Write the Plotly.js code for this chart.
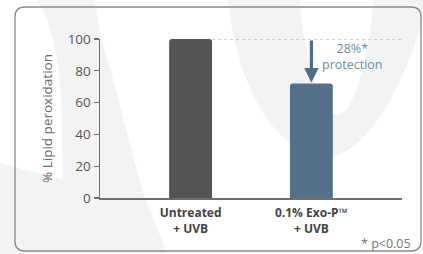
<!DOCTYPE html>
<html>
<head>
<meta charset="utf-8">
<script src="https://cdn.plot.ly/plotly-3.0.1.min.js"></script>
<style>html,body{margin:0;padding:0;background:#fff;}#chart{width:423px;height:254px;}</style>
</head>
<body>
<div id="chart"></div>
<script>
// ---- data ----
var categories = ["<b>Untreated</b><br><b>+ UVB</b>", "<b>0.1% Exo-P™</b><br><b>+ UVB</b>"];
var values = [100, 72];
var barColors = ["#545454", "#557189"];
var yTickVals = [0, 20, 40, 60, 80, 100];
var protectionText = "28%*<br>protection";
var noteText = "* p&lt;0.05";
var yTitle = "% Lipid peroxidation";

// ---- layout helpers ----
var FW = 423, FH = 254;
var ML = 100, MR = 21, MT = 39, MB = 56;
var PW = FW - ML - MR, PH = FH - MT - MB;
function px(x){ return ((x - ML) / PW).toFixed(4); }
function py(y){ return ((MT + PH - y) / PH).toFixed(4); }
function pt(x, y){ return px(x) + "," + py(y); }
var FONT = "Open Sans, Arial, sans-serif";
var barWidth = 0.355;
var xRange = [-0.75, 1.75];

var wm = "#f3f3f3";
var shapes = [
  // watermark (left)
  {type:"path", xref:"paper", yref:"paper", layer:"below", line:{width:0}, fillcolor:wm,
   path:"M"+pt(38,0)+" L"+pt(95,0)+" Q"+pt(100,40)+" "+pt(112,75)+" L"+pt(142,190)+" L"+pt(168,256)+
        " L"+pt(0,256)+" L"+pt(0,163)+" L"+pt(63,180)+" L"+pt(61,95)+" Q"+pt(56,30)+" "+pt(38,0)+" Z"},
  // watermark (right U)
  {type:"path", xref:"paper", yref:"paper", layer:"below", line:{width:0}, fillcolor:wm,
   path:"M"+pt(228,0)+" C"+pt(240,110)+" "+pt(290,157)+" "+pt(325,157)+" C"+pt(365,157)+" "+pt(405,90)+" "+pt(428,0)+
        " L"+pt(373,0)+" C"+pt(370,60)+" "+pt(352,115)+" "+pt(338,115)+" C"+pt(322,115)+" "+pt(304,60)+" "+pt(300,0)+" Z"},
  // frame
  {type:"path", xref:"paper", yref:"paper", layer:"below", line:{color:"#8a8a8a", width:1.3}, fillcolor:"rgba(0,0,0,0)",
   path:"M"+pt(25,7)+" L"+pt(411,7)+" Q"+pt(421,7)+" "+pt(421,17)+" L"+pt(421,241)+" Q"+pt(421,251)+" "+pt(411,251)+
        " L"+pt(25,251)+" Q"+pt(15,251)+" "+pt(15,241)+" L"+pt(15,17)+" Q"+pt(15,7)+" "+pt(25,7)+" Z"},
  // dotted reference line at control level
  {type:"line", xref:"x", yref:"y", x0:0 + barWidth/2, x1:xRange[1], y0:values[0], y1:values[0],
   line:{color:"#a0a0a0", width:1, dash:"dot"}, layer:"above"}
];

var trace = {
  type:"bar", x:[0,1], y:values, width:barWidth,
  marker:{color:barColors, cornerradius:3, line:{width:0}},
  hoverinfo:"none", cliponaxis:false
};

var layout = {
  width:FW, height:FH,
  margin:{l:ML, r:MR, t:MT, b:MB, pad:0},
  paper_bgcolor:"#ffffff", plot_bgcolor:"rgba(0,0,0,0)",
  showlegend:false,
  font:{family:FONT, color:"#555"},
  xaxis:{
    range:xRange, tickvals:[0,1], ticktext:categories, showgrid:false, zeroline:false,
    showline:true, linecolor:"#6e6e6e", linewidth:1.5, ticks:"", fixedrange:true,
    ticklabelstandoff:3,
    tickfont:{family:FONT, size:12, color:"#444"}
  },
  yaxis:{
    range:[0,100], tickvals:yTickVals, showgrid:false, zeroline:false,
    showline:true, linecolor:"#6e6e6e", linewidth:1.5, ticks:"outside", ticklen:5, tickwidth:1.3, tickcolor:"#6e6e6e",
    tickfont:{family:FONT, size:13.5, color:"#555"}, fixedrange:true,
    title:{text:yTitle, font:{family:FONT, size:13.5, color:"#6a6a6a"}, standoff:12}
  },
  shapes:shapes,
  annotations:[
    {x:1, y:values[1], ax:1, ay:values[0], xref:"x", yref:"y", axref:"x", ayref:"y",
     showarrow:true, arrowhead:2, arrowsize:0.9, arrowwidth:3.2, arrowcolor:"#4f6c85", text:"", standoff:1},
    {xref:"paper", yref:"paper", x:px(353), y:py(57), text:protectionText, showarrow:false,
     font:{family:FONT, size:12.5, color:"#6f8ca4"}, xanchor:"center", yanchor:"middle"},
    {xref:"paper", yref:"paper", x:px(413), y:py(244), text:noteText, showarrow:false,
     font:{family:FONT, size:12.5, color:"#777"}, xanchor:"right", yanchor:"middle"}
  ]
};

Plotly.newPlot("chart", [trace], layout, {displayModeBar:false, staticPlot:true});
</script>
</body>
</html>
